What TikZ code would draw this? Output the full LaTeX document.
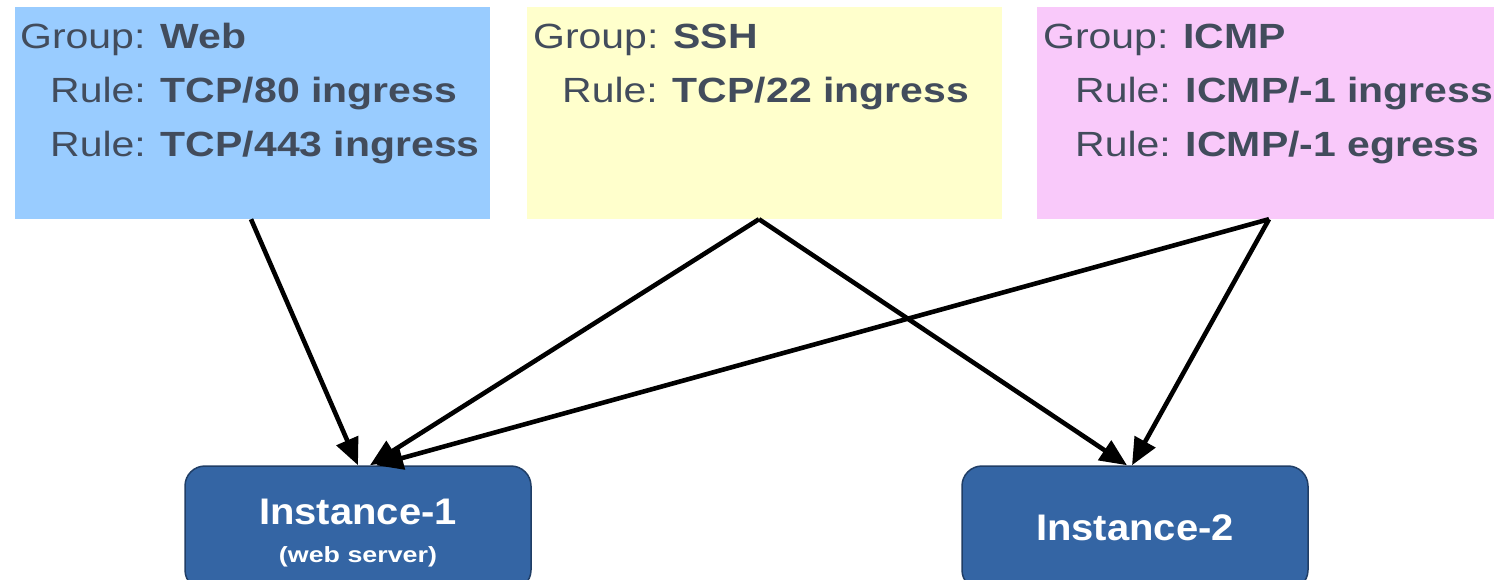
\documentclass[tikz,border=0pt]{standalone}
\usepackage{fontspec}
\setmainfont{Liberation Sans}
\newfontfamily\grpfont[FakeStretch=1.17]{Liberation Sans}
\newfontfamily\instfont[FakeStretch=1.08]{Liberation Sans}
\newfontfamily\subfont[FakeStretch=1.22]{Liberation Sans}
\usetikzlibrary{arrows.meta}

\definecolor{webfill}{RGB}{153,204,255}
\definecolor{sshfill}{RGB}{255,255,204}
\definecolor{icmpfill}{RGB}{249,201,250}
\definecolor{labeltext}{RGB}{66,76,92}
\definecolor{instfill}{RGB}{52,101,164}
\definecolor{instedge}{RGB}{32,62,102}

\tikzset{
  groupbox/.style={rectangle, draw=none, inner sep=0pt},
  grouptext/.style={anchor=base west, inner sep=0pt, text=labeltext,
    font=\grpfont\fontsize{35}{42}\selectfont},
  instbox/.style={rectangle, rounded corners=20pt, fill=instfill, draw=instedge,
    line width=1.5pt, minimum width=346pt, minimum height=124pt, inner sep=0pt},
  instname/.style={anchor=base, inner sep=0pt, text=white,
    font=\instfont\bfseries\fontsize{37}{44}\selectfont},
  instsub/.style={anchor=base, inner sep=0pt, text=white,
    font=\subfont\bfseries\fontsize{22}{26}\selectfont},
  link/.style={line width=4.6pt, -{Triangle[length=27pt,width=23pt]}},
}

\begin{document}
\begin{tikzpicture}[x=1pt, y=-1pt]
  \useasboundingbox (0,0) rectangle (1494,580);
  \clip (0,0) rectangle (1494,580);

  % security groups
  \node[groupbox, fill=webfill,  minimum width=475pt, minimum height=212pt] (web)  at (252.5,113) {};
  \node[groupbox, fill=sshfill,  minimum width=475pt, minimum height=212pt] (ssh)  at (764.5,113) {};
  \node[groupbox, fill=icmpfill, minimum width=457pt, minimum height=212pt] (icmp) at (1265.5,113) {};

  \node[grouptext] (web-g)  at (20,49)  {Group: \textbf{Web}};
  \node[grouptext] (web-r1) at (50,103) {Rule: \textbf{TCP/80 ingress}};
  \node[grouptext] (web-r2) at (50,157) {Rule: \textbf{TCP/443 ingress}};

  \node[grouptext] (ssh-g)  at (533,49)  {Group: \textbf{SSH}};
  \node[grouptext] (ssh-r1) at (562,103) {Rule: \textbf{TCP/22 ingress}};

  \node[grouptext] (icmp-g)  at (1043,49)  {Group: \textbf{ICMP}};
  \node[grouptext] (icmp-r1) at (1075,103) {Rule: \textbf{ICMP/-1 ingress}};
  \node[grouptext] (icmp-r2) at (1075,157) {Rule: \textbf{ICMP/-1 egress}};

  % instances
  \node[instbox] (inst1) at (358,528) {};
  \node[instbox] (inst2) at (1135,528) {};
  \node[instname] (inst1-name) at (358,524) {Instance-1};
  \node[instsub]  (inst1-sub)  at (358,562) {(web server)};
  \node[instname] (inst2-name) at (1135,540) {Instance-2};

  % group membership
  \draw[link] ([xshift=-1.5pt]web.south) -- (inst1.north);
  \draw[link] ([xshift=-5.5pt]ssh.south) -- ([xshift=12pt]inst1.north);
  \draw[link] ([xshift=3.5pt]icmp.south) -- ([xshift=18pt]inst1.north);
  \draw[link] ([xshift=-5.5pt]ssh.south) -- ([xshift=-8pt]inst2.north);
  \draw[link] ([xshift=3.5pt]icmp.south) -- ([xshift=-3pt]inst2.north);
\end{tikzpicture}
\end{document}
